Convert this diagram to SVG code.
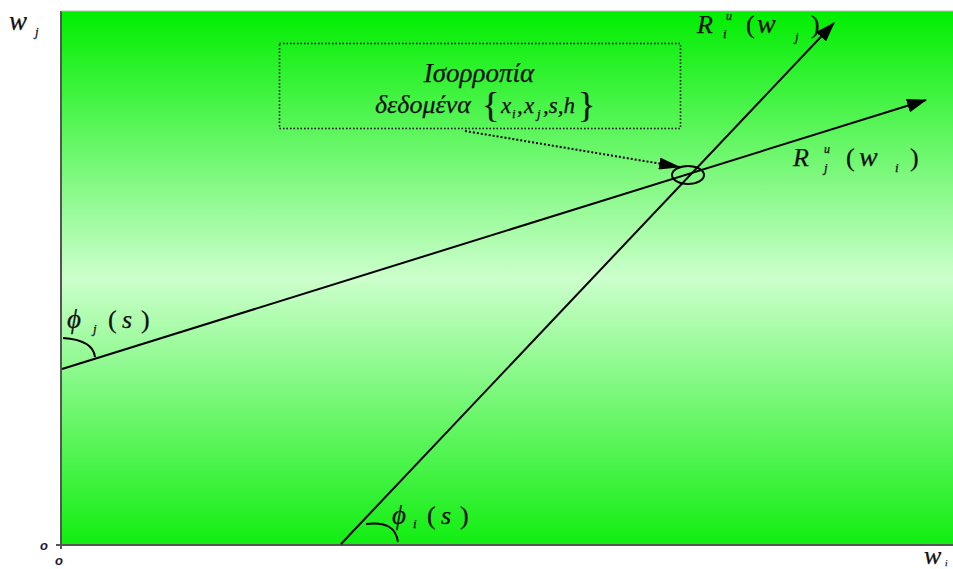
<svg xmlns="http://www.w3.org/2000/svg" width="953" height="569" viewBox="0 0 953 569">
<defs>
<linearGradient id="bg" x1="0" y1="0" x2="0" y2="1">
<stop offset="0" stop-color="#00ee00"/>
<stop offset="0.5" stop-color="#ccffcc"/>
<stop offset="1" stop-color="#11ee11"/>
</linearGradient>
<marker id="ahBig" viewBox="0 0 20 14" markerWidth="20" markerHeight="14" refX="19" refY="7" orient="auto" markerUnits="userSpaceOnUse">
<path d="M0,0 L20,7 L0,14 z" fill="#000"/>
</marker>
<marker id="ahMid" viewBox="0 0 22 12" markerWidth="22" markerHeight="12" refX="21" refY="6" orient="auto" markerUnits="userSpaceOnUse">
<path d="M0,0 L22,6 L0,12 z" fill="#000"/>
</marker>
</defs>
<style>
.t{font-family:"Liberation Serif","Times New Roman",serif;font-style:italic;fill:#111;stroke:#111;stroke-width:0.25;}
.n{font-style:normal;}
.ln{stroke:#000;stroke-width:2;fill:none;}
.ax{stroke:#555;stroke-width:2;fill:none;}
.o{font-family:"Liberation Sans",Arial,sans-serif;font-style:italic;font-weight:bold;font-size:13px;fill:#1a1a3a;}
</style>
<rect x="61" y="11" width="892" height="534" fill="url(#bg)"/>
<g id="axes">
<line class="ax" x1="61" y1="11" x2="61" y2="549"/>
<line class="ax" x1="56" y1="545" x2="953" y2="545"/>
<line x1="61" y1="11" x2="953" y2="11" stroke="#bbb" stroke-width="1"/>
</g>
<g id="connectors">
<line class="ln" x1="62" y1="369" x2="926" y2="100" marker-end="url(#ahBig)"/>
<line class="ln" x1="341" y1="544" x2="834" y2="23" marker-end="url(#ahBig)"/>
<line x1="465" y1="131" x2="680" y2="167" stroke="#000" stroke-width="2" stroke-dasharray="2,2" marker-end="url(#ahMid)"/>
<path class="ln" d="M63 338 Q93 340 95 357"/>
<path class="ln" d="M366 524 Q395 520 398 542"/>
</g>
<g id="equilibrium">
<ellipse cx="688" cy="175" rx="16" ry="9" class="ln"/>
</g>
<g id="box">
<rect x="279.5" y="43.5" width="401" height="85" fill="none" stroke="#000" stroke-width="1.5" stroke-dasharray="1.5,2"/>
<text class="t" x="479" y="82" font-size="27" text-anchor="middle">Ισορροπία</text>
<text class="t" x="375" y="113" font-size="26">δεδομένα</text>
<text class="t n" x="482" y="117" font-size="36">{</text>
<text class="t" x="501" y="113" font-size="23">x</text>
<text class="t" x="512" y="118" font-size="13">i</text>
<text class="t" x="517" y="113" font-size="23">,</text>
<text class="t" x="524" y="113" font-size="23">x</text>
<text class="t" x="537" y="118" font-size="13">j</text>
<text class="t" x="543" y="113" font-size="23">,s,h</text>
<text class="t n" x="578" y="117" font-size="36">}</text>
</g>
<g id="labels">
<text class="t" x="9" y="30" font-size="27">w</text>
<text class="t" x="35" y="36" font-size="13">j</text>
<text class="t" x="697" y="33" font-size="26">R</text>
<text class="t" x="726" y="20" font-size="12">u</text>
<text class="t" x="723" y="38" font-size="13">i</text>
<text class="t n" x="746" y="33" font-size="26">(</text>
<text class="t" x="757" y="33" font-size="28">w</text>
<text class="t" x="795" y="41" font-size="13">j</text>
<text class="t n" x="811" y="33" font-size="26">)</text>
<text class="t" x="793" y="166" font-size="26">R</text>
<text class="t" x="824" y="153" font-size="12">u</text>
<text class="t" x="824" y="172" font-size="13">j</text>
<text class="t n" x="846" y="166" font-size="26">(</text>
<text class="t" x="859" y="166" font-size="28">w</text>
<text class="t" x="895" y="172" font-size="13">i</text>
<text class="t n" x="910" y="166" font-size="26">)</text>
<text class="t" x="67" y="328" font-size="27">ϕ</text>
<text class="t" x="93" y="333" font-size="13">j</text>
<text class="t n" x="108" y="328" font-size="26">(</text>
<text class="t" x="122" y="328" font-size="26">s</text>
<text class="t n" x="141" y="328" font-size="26">)</text>
<text class="t" x="392" y="524" font-size="27">ϕ</text>
<text class="t" x="413" y="528" font-size="13">i</text>
<text class="t n" x="427" y="524" font-size="26">(</text>
<text class="t" x="441" y="524" font-size="26">s</text>
<text class="t n" x="460" y="524" font-size="26">)</text>
<text class="o" x="40" y="550">o</text>
<text class="o" x="55" y="565">o</text>
<text class="t" x="924" y="564" font-size="26">w</text>
<text class="t" x="945" y="566" font-size="9">i</text>
</g>
</svg>
